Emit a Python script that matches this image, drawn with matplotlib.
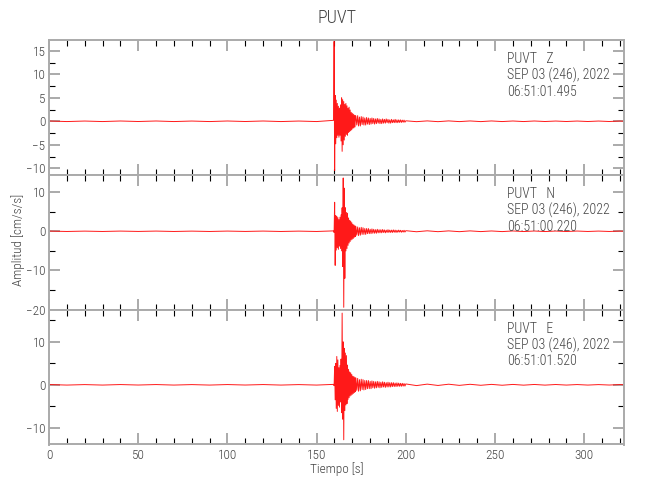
import numpy as np
import matplotlib
matplotlib.use("Agg")
import matplotlib.pyplot as plt
from matplotlib.ticker import MultipleLocator
from matplotlib import font_manager

# fuente estrecha si existe, si no Roboto
disponibles = {f.name for f in font_manager.fontManager.ttflist}
fuente = 'Roboto'
for nombre in ['Liberation Sans Narrow', 'Roboto Condensed', 'Open Sans Condensed', 'DejaVu Sans Condensed']:
    if nombre in disponibles:
        fuente = nombre
        break
plt.rcParams['font.family'] = [fuente, 'DejaVu Sans']
plt.rcParams['font.weight'] = 'light'

# datos (picos alternos del sismograma)
estacion = "PUVT"
componentes = ["Z", "N", "E"]
fecha = "SEP 03 (246), 2022"
horas = ["06:51:01.495", "06:51:00.220", "06:51:01.520"]

# tramos de muestreo: (inicio [s], paso [s])
tramo_pre = (0.0, 10.0)
tramo_sismo = (159.5, 0.3)
tramo_coda = (172.0, 0.5)
tramo_cola = (200.0, 6.0)

z_pre = [0.06, -0.06, 0.05, -0.06, 0.06, -0.05, 0.06, -0.06, 0.05, -0.06, 0.06, -0.05, 0.06, -0.06, 0.05, -0.06]
z_sismo = [0.2, 17.0, -10.5, 5.5, -4.8, 4.5, -3.5, 3.8, -3.0, 3.2, -3.4, 2.8, -3.0, 3.5, -4.2, 5.0, -6.4,
           4.6, -5.0, 4.2, -4.0, 3.6, -3.2, 3.8, -2.8, 3.3, -3.0, 2.8, -2.4, 3.0, -2.2, 2.4, -2.0, 1.9,
           -1.8, 1.7, -1.5, 1.5, -1.4, 1.3, -1.2, 1.2]
z_coda = [1.1, -0.8, 1.2, -1.0, 0.9, -1.0, 1.0, -0.7, 0.9, -0.8, 0.7, -0.8, 0.8, -0.6, 0.7, -0.7, 0.6, -0.6,
          0.7, -0.5, 0.6, -0.6, 0.5, -0.5, 0.6, -0.4, 0.5, -0.5, 0.4, -0.5, 0.5, -0.4, 0.4, -0.4, 0.5, -0.3,
          0.4, -0.4, 0.3, -0.4, 0.4, -0.3, 0.3, -0.3, 0.4, -0.3, 0.3, -0.3, 0.3, -0.25, 0.3, -0.25, 0.25, -0.2,
          0.25, -0.2]
z_cola = [0.1, -0.08, 0.08, -0.08, 0.08, -0.07, 0.07, -0.07, 0.07, -0.06, 0.06, -0.06, 0.06, -0.05, 0.05,
          -0.05, 0.05, -0.05, 0.05, -0.05, 0.05, -0.05]

n_pre = [0.05, -0.05, 0.04, -0.05, 0.05, -0.04, 0.05, -0.05, 0.04, -0.05, 0.05, -0.04, 0.05, -0.05, 0.04, -0.05]
n_sismo = [0.1, -0.3, 7.4, -8.7, 4.0, -4.8, 3.8, -4.2, 3.5, -4.6, 3.0, -3.8, 3.6, -4.4, 4.2, -5.0, 6.0, -9.0,
           13.6, -19.4, 11.0, -12.0, 6.0, -5.0, 4.8, -4.4, 4.6, -3.6, 3.4, -3.0, 2.8, -2.6, 2.6, -2.2, 2.2,
           -2.0, 1.8, -1.8, 1.6, -1.5, 1.4, -1.3]
n_coda = [1.2, -1.0, 1.1, -1.1, 0.9, -1.0, 1.0, -0.8, 0.9, -0.8, 0.7, -0.8, 0.7, -0.6, 0.7, -0.6, 0.5, -0.6,
          0.6, -0.5, 0.5, -0.5, 0.4, -0.5, 0.5, -0.4, 0.4, -0.4, 0.4, -0.4, 0.45, -0.3, 0.35, -0.4, 0.3, -0.3,
          0.4, -0.3, 0.3, -0.3, 0.3, -0.3, 0.35, -0.25, 0.3, -0.3, 0.25, -0.25, 0.3, -0.2, 0.25, -0.25, 0.2,
          -0.2, 0.25, -0.2]
n_cola = [0.15, -0.12, 0.12, -0.1, 0.1, -0.1, 0.1, -0.08, 0.08, -0.08, 0.08, -0.07, 0.07, -0.07, 0.06, -0.06,
          0.06, -0.05, 0.05, -0.05, 0.05, -0.05]

e_pre = [0.06, -0.06, 0.05, -0.06, 0.06, -0.05, 0.06, -0.06, 0.05, -0.06, 0.06, -0.05, 0.06, -0.06, 0.05, -0.06]
e_sismo = [0.1, -0.2, 4.3, -3.5, 5.0, -5.5, 6.6, -6.2, 5.8, -4.8, 4.0, -5.2, 4.5, -4.0, 6.0, -6.5, 16.7,
           -8.0, 10.0, -12.8, 8.5, -6.0, 7.4, -4.7, 6.8, -4.4, 4.6, -3.4, 3.6, -3.0, 3.0, -2.6, 2.8, -2.4,
           2.4, -2.2, 2.0, -2.0, 1.9, -1.8, 1.7, -1.6]
e_coda = [1.6, -1.3, 1.5, -1.5, 1.2, -1.4, 1.3, -1.1, 1.2, -1.2, 1.0, -1.1, 1.0, -0.9, 1.0, -0.9, 0.8, -0.9,
          0.9, -0.7, 0.8, -0.8, 0.7, -0.7, 0.8, -0.6, 0.7, -0.7, 0.6, -0.6, 0.7, -0.5, 0.6, -0.6, 0.5, -0.5,
          0.6, -0.5, 0.5, -0.5, 0.5, -0.4, 0.5, -0.4, 0.4, -0.4, 0.45, -0.35, 0.4, -0.35, 0.35, -0.35, 0.35,
          -0.3, 0.3, -0.3]
e_cola = [0.2, -0.18, 0.16, -0.15, 0.14, -0.13, 0.12, -0.11, 0.1, -0.1, 0.09, -0.08, 0.08, -0.07, 0.07,
          -0.06, 0.06, -0.06, 0.05, -0.05, 0.05, -0.05]

trazas = [
    [z_pre, z_sismo, z_coda, z_cola],
    [n_pre, n_sismo, n_coda, n_cola],
    [e_pre, e_sismo, e_coda, e_cola],
]
tramos = [tramo_pre, tramo_sismo, tramo_coda, tramo_cola]

ylims = [(-11.4, 17.3), (-20, 14.4), (-13.9, 17.5)]
ymayor = [5, 10, 10]
ymenor = [2.5, 5, 5]

gris = '#aaaaaa'
texto = '#444444'

fig, axes = plt.subplots(3, 1, figsize=(6.5, 5), dpi=100, sharex=True)
fig.subplots_adjust(left=49 / 650, right=623.5 / 650, top=1 - 40 / 500, bottom=1 - 444.5 / 500, hspace=0)

for i, ax in enumerate(axes):
    tt, yy = [], []
    for (t0, dt), vals in zip(tramos, trazas[i]):
        tt.append(t0 + dt * np.arange(len(vals)))
        yy.append(np.array(vals))
    t = np.concatenate(tt)
    y = np.concatenate(yy)
    ax.plot(t, y, color='red', lw=0.7, alpha=0.9)

    ax.set_xlim(0, 322)
    ax.set_ylim(*ylims[i])
    ax.xaxis.set_major_locator(MultipleLocator(50))
    ax.xaxis.set_minor_locator(MultipleLocator(10))
    ax.yaxis.set_major_locator(MultipleLocator(ymayor[i]))
    ax.yaxis.set_minor_locator(MultipleLocator(ymenor[i]))
    ax.tick_params(which='both', direction='in', top=True, right=True, labelcolor=texto, labelsize=9.5)
    ax.tick_params(axis='y', pad=2.5)
    ax.tick_params(which='major', length=8, width=1.4, color=gris)
    ax.tick_params(which='minor', length=4, width=0.8, color='black')
    for s in ax.spines.values():
        s.set_color(gris)
        s.set_linewidth(1.4)

    ax.text(0.797, 0.91, f"{estacion}   {componentes[i]}\n{fecha}\n{horas[i]}",
            transform=ax.transAxes, ha='left', va='top', fontsize=10, color=texto, linespacing=1.15)

fig.text(337 / 650, 1 - 18 / 500, estacion, ha='center', va='center', fontsize=13, color=texto)
fig.text(18 / 650, 1 - 240 / 500, "Amplitud [cm/s/s]", ha='center', va='center', rotation=90,
         fontsize=9.5, color=texto)
fig.text(337 / 650, 1 - 469 / 500, "Tiempo [s]", ha='center', va='center', fontsize=9.5, color=texto)

fig.savefig("out.png", dpi=100)
